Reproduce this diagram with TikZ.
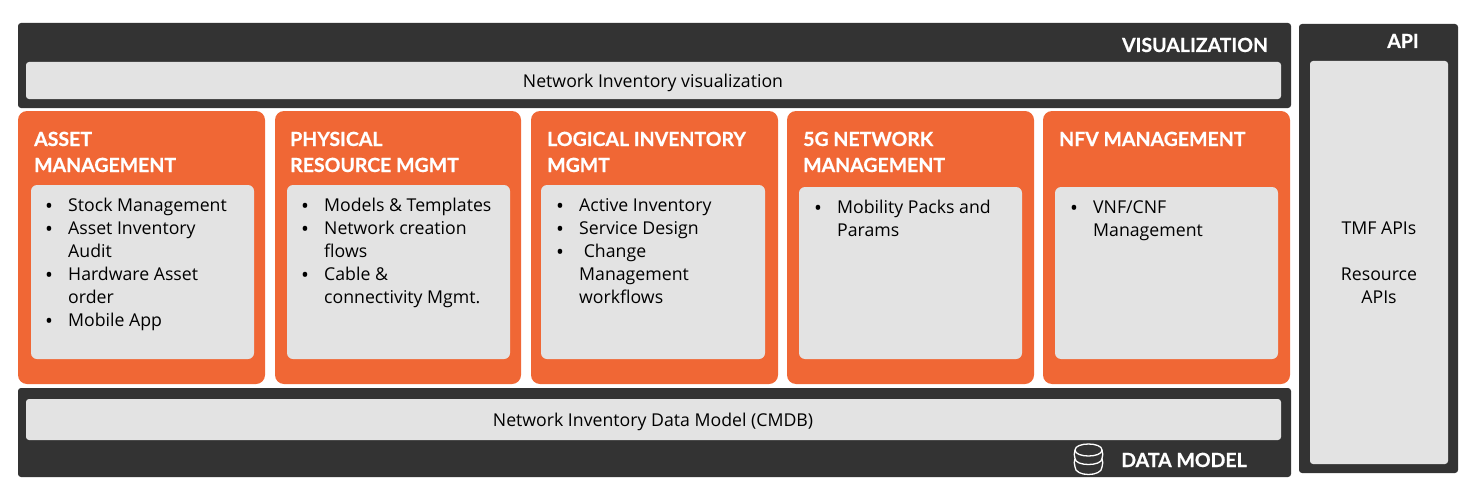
\documentclass[tikz,border=0pt]{standalone}
\usepackage{fontspec}
\setmainfont{Open Sans}
\newfontfamily\headfont{Lato}[BoldFeatures={FakeBold=0.6}]
\newcommand{\bul}{\makebox[37pt][l]{\hspace{14pt}{\fontsize{21}{23}\selectfont\raisebox{-2.2pt}{•}}}}
\newcommand{\ind}{\hspace{37pt}}
\definecolor{darkpanel}{HTML}{333333}
\definecolor{orangepanel}{HTML}{F06735}
\definecolor{greypanel}{HTML}{E3E3E3}
\tikzset{
  x=1pt,y=-1pt,
  panel/.style={fill=darkpanel,rounded corners=3pt},
  card/.style={fill=orangepanel,rounded corners=9pt},
  inner/.style={fill=greypanel,rounded corners=3pt},
  listbox/.style={fill=greypanel,rounded corners=6pt},
  head/.style={text=white,anchor=base west,align=left,inner sep=0pt,font=\headfont\fontsize{19.5}{26}\selectfont\bfseries},
  tag/.style={text=white,anchor=base,inner sep=0pt,font=\headfont\fontsize{19.5}{26}\selectfont\bfseries},
  body/.style={text=black,inner sep=0pt,font=\fontsize{17.7}{23}\selectfont},
  items/.style={body,anchor=base west,align=left},
  center/.style={body,anchor=base,align=center},
  icon/.style={draw=white,line width=1.3pt,fill=none},
}
\begin{document}
\begin{tikzpicture}
\useasboundingbox (0,0) rectangle (1477,495);
% dark panels
\fill[panel] (18,23) rectangle (1291,108);
\fill[inner] (26,62) rectangle (1281,99);
\fill[panel] (18,388) rectangle (1291,477);
\fill[inner] (26,399) rectangle (1281,440);
\fill[panel] (1299,24) rectangle (1458,473);
\fill[inner] (1310,61) rectangle (1448,464);
% orange cards
\fill[card] (18,111) rectangle (265,384);
\fill[card] (275,111) rectangle (521,384);
\fill[card] (531,111) rectangle (778,384);
\fill[card] (787,111) rectangle (1034,384);
\fill[card] (1043,111) rectangle (1290,384);
\fill[listbox] (31,185) rectangle (254,359);
\fill[listbox] (287,185) rectangle (510,359);
\fill[listbox] (541,185) rectangle (765,359);
\fill[listbox] (799,187) rectangle (1022,359);
\fill[listbox] (1055,187) rectangle (1278,359);
% labels
\node[tag] (vis) at (1195,52) {VISUALIZATION};
\node[tag] (api) at (1403,48) {API};
\node[tag] (dm) at (1184,467) {DATA MODEL};
\node[center] (visbar) at (653,87) {Network Inventory visualization};
\node[center] (cmdb) at (653,426) {Network Inventory Data Model (CMDB)};
\node[center] (apis) at (1379,303) {TMF APIs\\[23pt]Resource\\APIs};
\node[head] (h1) at (34,172) {ASSET\\MANAGEMENT};
\node[head] (h2) at (290,172) {PHYSICAL\\RESOURCE MGMT};
\node[head] (h3) at (547,172) {LOGICAL INVENTORY\\MGMT};
\node[head] (h4) at (803,172) {5G NETWORK\\MANAGEMENT};
\node[head] (h5) at (1059,146) {NFV MANAGEMENT};
\node[items] (l1) at (31,326) {\bul Stock Management\\\bul Asset Inventory\\\ind Audit\\\bul Hardware Asset\\\ind order\\\bul Mobile App};
\node[items] (l2) at (287,303) {\bul Models \& Templates\\\bul Network creation\\\ind flows\\\bul Cable \&\\\ind connectivity Mgmt.};
\node[items] (l3) at (542,303) {\bul Active Inventory\\\bul Service Design\\\bul \ Change\\\ind Management\\\ind workflows};
\node[items] (l4) at (800,236) {\bul Mobility Packs and\\\ind Params};
\node[items] (l5) at (1056,236) {\bul VNF/CNF\\\ind Management};
% database icon
\draw[icon] (1075,450) .. controls (1075,442) and (1102,442) .. (1102,450) .. controls (1102,458) and (1075,458) .. (1075,450);
\draw[icon] (1075,450) .. controls (1074,453) and (1074,456) .. (1075,458.5) .. controls (1074,461) and (1074,464) .. (1075,467) .. controls (1075,477) and (1102,477) .. (1102,467) .. controls (1103,464) and (1103,461) .. (1102,458.5) .. controls (1103,456) and (1103,453) .. (1102,450);
\draw[icon] (1075,458.5) .. controls (1075,466.5) and (1102,466.5) .. (1102,458.5);
\end{tikzpicture}
\end{document}
